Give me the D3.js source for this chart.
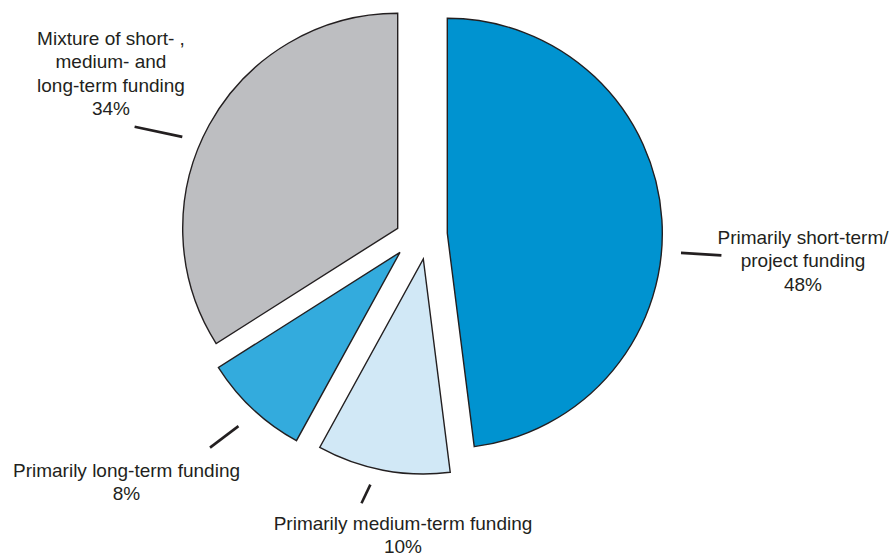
<!DOCTYPE html>
<html>
<head>
<meta charset="utf-8">
<script src="https://cdn.jsdelivr.net/npm/d3@7"></script>
<style>
  html, body { margin: 0; padding: 0; background: #fff; }
  svg { display: block; }
  text { font-family: "Liberation Sans", Arial, Helvetica, sans-serif; fill: #231f20; }
</style>
</head>
<body>
<svg id="chart" width="891" height="554"></svg>
<script>
// ---- data ----
const categories = [
  "Primarily short-term/ project funding",
  "Primarily medium-term funding",
  "Primarily long-term funding",
  "Mixture of short- , medium- and long-term funding"
];
const values = [48, 10, 8, 34];
const labelLines = [
  ["Primarily short-term/", "project funding", "48%"],
  ["Primarily medium-term funding", "10%"],
  ["Primarily long-term funding", "8%"],
  ["Mixture of short- ,", "medium- and", "long-term funding", "34%"]
];

// ---- layout / style ----
const W = 891, H = 554;
const radius = 215;
const center = [421, 241];
const colors = ["#0093d0", "#d1e8f6", "#33abdd", "#bdbec1"];
// explode offsets of each slice (apex displacement from the pie centre)
const explode = [[26.3, -7.7], [2.3, 18], [-21, 11.3], [-23.3, -12.7]];
// leader lines: two polar points [angleDeg, r] measured from the slice apex
const leaders = [
  [[94.8, 234.5], [94.6, 275]],
  [[193.2, 231.8], [194.2, 252]],
  [[222.9, 237.3], [224.2, 272.5]],
  [[293.0, 234], [291.1, 282]]
];
// label anchor (centre x, first baseline y) and line spacing
const labelPos = [[803, 244], [403, 530], [126.5, 476.5], [111, 45]];
const lineGap = 23.4;
const fontSize = 19;

const svg = d3.select("#chart");

const pie = d3.pie().sort(null).value(d => d)
  .startAngle(0).endAngle(2 * Math.PI);
const arcs = pie(values);
const arc = d3.arc().innerRadius(0).outerRadius(radius);

const g = svg.append("g").attr("transform", `translate(${center[0]},${center[1]})`);

const slice = g.selectAll("g.slice").data(arcs).enter().append("g")
  .attr("class", "slice")
  .attr("transform", (d, i) => `translate(${explode[i][0]},${explode[i][1]})`);

slice.append("path")
  .attr("d", arc)
  .attr("fill", (d, i) => colors[i])
  .attr("stroke", "#231f20")
  .attr("stroke-width", 1.4)
  .attr("stroke-linejoin", "miter");

function polar(a, r) {
  const t = a * Math.PI / 180;
  return [r * Math.sin(t), -r * Math.cos(t)];
}

slice.append("line")
  .each(function (d, i) {
    const p1 = polar(leaders[i][0][0], leaders[i][0][1]);
    const p2 = polar(leaders[i][1][0], leaders[i][1][1]);
    d3.select(this).attr("x1", p1[0]).attr("y1", p1[1]).attr("x2", p2[0]).attr("y2", p2[1]);
  })
  .attr("stroke", "#231f20")
  .attr("stroke-width", 2.6);

// labels
const labels = svg.selectAll("text.label").data(arcs).enter().append("text")
  .attr("class", "label")
  .attr("text-anchor", "middle")
  .attr("font-size", fontSize)
  .attr("x", (d, i) => labelPos[i][0])
  .attr("y", (d, i) => labelPos[i][1]);

labels.each(function (d, i) {
  const t = d3.select(this);
  labelLines[i].forEach((line, k) => {
    t.append("tspan")
      .attr("x", labelPos[i][0])
      .attr("y", labelPos[i][1] + k * lineGap)
      .text(line);
  });
});
</script>
</body>
</html>
